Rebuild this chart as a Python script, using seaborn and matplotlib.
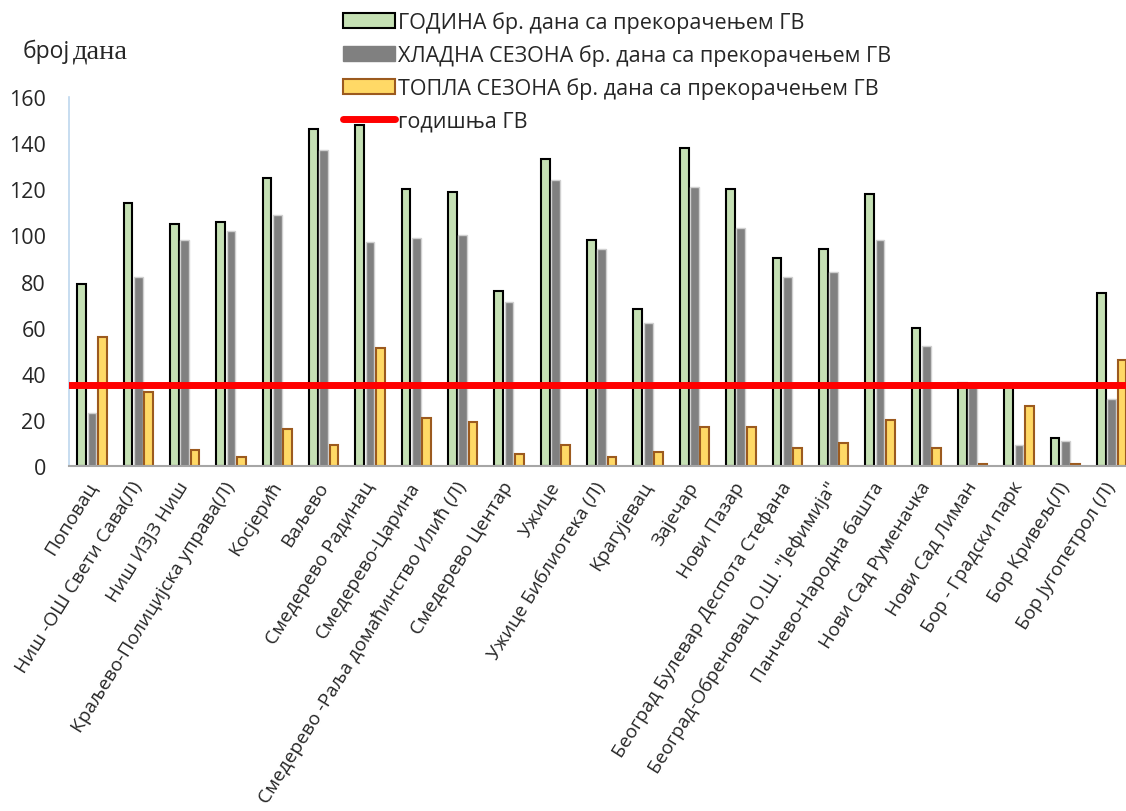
import matplotlib
matplotlib.use("Agg")
import matplotlib.pyplot as plt
import seaborn as sns
import pandas as pd
from matplotlib.lines import Line2D
from matplotlib.patches import Patch

stations = ["Поповац", "Ниш -ОШ Свети Сава(Л)", "Ниш ИЗЈЗ Ниш", "Краљево-Полицијска управа(Л)",
            "Косјерић", "Ваљево", "Смедерево Радинац", "Смедерево-Царина",
            "Смедерево -Раља домаћинство Илић (Л)", "Смедерево Центар", "Ужице",
            "Ужице Библиотека (Л)", "Крагујевац", "Зајечар", "Нови Пазар",
            "Београд Булевар Деспота Стефана", "Београд-Обреновац О.Ш. \"Јефимија\"",
            "Панчево-Народна башта", "Нови Сад Руменачка", "Нови Сад Лиман",
            "Бор - Градски парк", "Бор Кривељ(Л)", "Бор Југопетрол (Л)"]
year_days = [79, 114, 105, 106, 125, 146, 148, 120, 119, 76, 133, 98, 68, 138, 120, 90, 94, 118, 60, 36, 35, 12, 75]
cold_days = [23, 82, 98, 102, 109, 137, 97, 99, 100, 71, 124, 94, 62, 121, 103, 82, 84, 98, 52, 35, 9, 11, 29]
warm_days = [56, 32, 7, 4, 16, 9, 51, 21, 19, 5, 9, 4, 6, 17, 17, 8, 10, 20, 8, 1, 26, 1, 46]
limit_value = 35

series_names = ["ГОДИНА бр. дана са прекорачењем ГВ",
                "ХЛАДНА СЕЗОНА бр. дана са прекорачењем ГВ",
                "ТОПЛА СЕЗОНА бр. дана са прекорачењем ГВ"]
line_name = "годишња ГВ"
yticks = [0, 20, 40, 60, 80, 100, 120, 140, 160]

rows = []
for name, vals in zip(series_names, [year_days, cold_days, warm_days]):
    for s, v in zip(stations, vals):
        rows.append({"station": s, "series": name, "days": v})
df = pd.DataFrame(rows)

fills = ["#C5E0B4", "#808080", "#FFD966"]
edges = ["#000000", "#D0D0D0", "#9C5A1E"]
edge_w = [1.5, 1.0, 1.5]

sns.set_theme(style="white")
plt.rcParams["font.family"] = ["Open Sans", "DejaVu Sans"]

W, H = 1126, 812
fig = plt.figure(figsize=(W / 100, H / 100), dpi=100)
ax = fig.add_axes([68.8 / W, 1 - 467 / H, 1066 / W, 369 / H])

sns.barplot(data=df, x="station", y="days", hue="series", hue_order=series_names,
            palette=fills, width=0.667, gap=0.15, ax=ax, legend=False, saturation=1)
for cont, ec, lw in zip(ax.containers, edges, edge_w):
    for bar in cont:
        bar.set_edgecolor(ec)
        bar.set_linewidth(lw)

ax.axhline(limit_value, color="#FF0000", lw=5, zorder=5)

ax.set_xlim(-0.5, len(stations) - 0.5)
ax.set_ylim(0, 160)
ax.set_yticks(yticks)
ax.set_yticklabels([str(t) for t in yticks], fontsize=15.5)
ax.tick_params(axis="y", length=0, pad=16.5)
ax.tick_params(axis="x", length=0, pad=12)
ax.set_xticks(range(len(stations)))
ax.set_xticklabels(stations, rotation=58, ha="right", va="center",
                   rotation_mode="anchor", fontsize=13.8)
ax.set_xlabel("")
ax.set_ylabel("")
for sp in ["top", "right"]:
    ax.spines[sp].set_visible(False)
ax.spines["bottom"].set_color("#A6A6A6")
ax.spines["bottom"].set_linewidth(1.5)
ax.spines["left"].set_color("#BDD7EE")
ax.spines["left"].set_linewidth(1.2)

fig.text(23 / W, 1 - 52 / H, "број", fontsize=16.5, va="center", ha="left")
fig.text(73 / W, 1 - 52 / H, "дана", fontsize=20.5, va="center", ha="left",
         family=["Liberation Serif", "DejaVu Serif"])

handles = [Patch(facecolor=fills[0], edgecolor=edges[0], linewidth=1.5),
           Patch(facecolor=fills[1], edgecolor=fills[1], linewidth=1.0),
           Patch(facecolor=fills[2], edgecolor=edges[2], linewidth=1.5),
           Line2D([0], [0], color="#FF0000", lw=5)]
labels = series_names + [line_name]
fig.legend(handles, labels, loc="upper left", bbox_to_anchor=(343 / W, 1 - 12 / H),
           frameon=False, fontsize=15.5, handlelength=2.4, handleheight=0.7,
           handletextpad=0.15, labelspacing=0.52, borderaxespad=0, borderpad=0)

fig.savefig("out.png", dpi=100)
